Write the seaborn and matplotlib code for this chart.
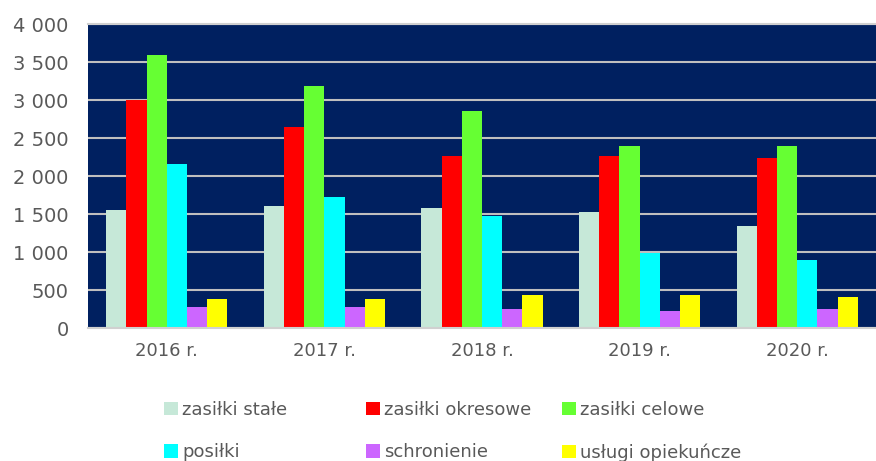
import matplotlib
matplotlib.use('Agg')
import matplotlib.pyplot as plt
import seaborn as sns
import pandas as pd
from matplotlib.ticker import FuncFormatter

years = ['2016 r.', '2017 r.', '2018 r.', '2019 r.', '2020 r.']
series = ['zasiłki stałe', 'zasiłki okresowe', 'zasiłki celowe',
          'posiłki', 'schronienie', 'usługi opiekuńcze']
zasilki_stale = [1553, 1607, 1577, 1526, 1346]
zasilki_okresowe = [3005, 2650, 2265, 2267, 2241]
zasilki_celowe = [3594, 3184, 2855, 2395, 2395]
posilki = [2160, 1730, 1476, 991, 891]
schronienie = [280, 280, 255, 224, 250]
uslugi_opiekuncze = [384, 380, 432, 430, 404]
colors = ['#c6e8d8', '#ff0000', '#66ff33', '#00ffff', '#cc66ff', '#ffff00']

values = [zasilki_stale, zasilki_okresowe, zasilki_celowe,
          posilki, schronienie, uslugi_opiekuncze]
rows = []
for name, vals in zip(series, values):
    for y, v in zip(years, vals):
        rows.append({'rok': y, 'rodzaj': name, 'liczba': v})
df = pd.DataFrame(rows)

sns.set_style('white')
plt.rcParams['font.family'] = ['DejaVu Sans']

fig = plt.figure(figsize=(8.76, 4.61), dpi=100)
ax = fig.add_axes([88 / 876, 1 - 328 / 461, 788 / 876, 304 / 461])
ax.set_facecolor('#002060')

sns.barplot(data=df, x='rok', y='liczba', hue='rodzaj', order=years,
            hue_order=series, palette=colors, width=0.77, saturation=1,
            linewidth=0, ax=ax)

ax.set_ylim(0, 4000)
ax.set_yticks(range(0, 4001, 500))
ax.yaxis.set_major_formatter(FuncFormatter(lambda v, p: f'{int(v):,}'.replace(',', ' ')))
ax.grid(axis='y', color='#bfbfbf', linewidth=1.5)
ax.set_axisbelow(True)
ax.set_xlabel('')
ax.set_ylabel('')
ax.tick_params(axis='x', length=0, labelsize=13, colors='#595959', pad=10)
ax.tick_params(axis='y', length=0, labelsize=14, colors='#595959', pad=14)
for s in ['left', 'right']:
    ax.spines[s].set_visible(False)
for s in ['top', 'bottom']:
    ax.spines[s].set_color('#d0d0d0')
    ax.spines[s].set_linewidth(1.5)

handles, labels = ax.get_legend_handles_labels()
ax.get_legend().remove()
col_x = [155 / 876, 357 / 876, 553 / 876]
for i, x in enumerate(col_x):
    fig.legend([handles[i], handles[i + 3]], [labels[i], labels[i + 3]],
               loc='upper left', bbox_to_anchor=(x, 1 - 392 / 461),
               frameon=False, fontsize=13, labelcolor='#595959',
               handlelength=0.75, handleheight=0.75, handletextpad=0.25,
               labelspacing=1.35, borderpad=0)

fig.savefig('out.png', dpi=100)
